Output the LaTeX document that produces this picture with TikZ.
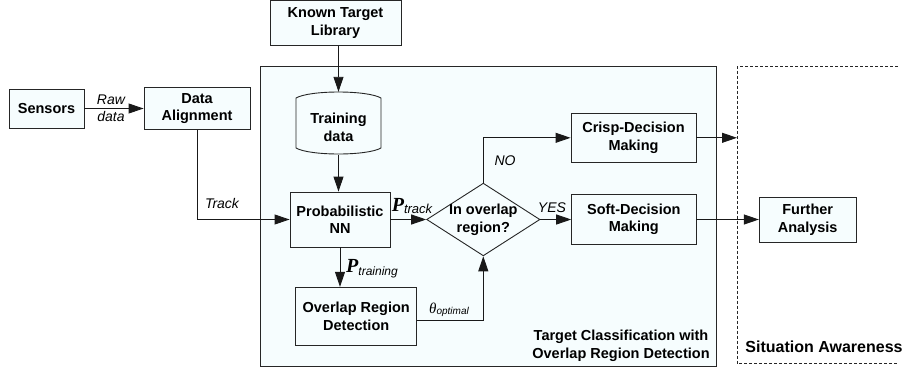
\documentclass[tikz,border=0pt]{standalone}
\usepackage{fontspec}
\setmainfont{Liberation Sans}
\newfontfamily\serifP{Liberation Serif}
\usetikzlibrary{arrows.meta,shapes.geometric}
\definecolor{boxfill}{RGB}{246,253,254}
\tikzset{
  blk/.style={draw=black!85, fill=boxfill, line width=0.9pt, font=\fontsize{14.5}{17.5}\selectfont\bfseries, align=center, inner sep=0pt},
  lbl/.style={font=\fontsize{14}{17}\selectfont\itshape, align=center, inner sep=0pt},
  bold/.style={font=\fontsize{14.5}{18}\selectfont\bfseries, align=center, inner sep=0pt},
  conn/.style={line width=0.9pt, draw=black!90, -{Triangle[length=15pt,width=10pt]}},
}
\newcommand{\bigP}{{\fontsize{20}{20}\selectfont\serifP\bfseries\itshape P}}
\begin{document}
\begin{tikzpicture}[x=1pt,y=-1pt]
\useasboundingbox (0,0) rectangle (905,370);
% container boxes
\node[draw=black!85, fill=boxfill, line width=0.9pt, minimum width=456.7pt, minimum height=300pt, inner sep=0pt] (tcbox) at (488.35,216.7) {};
\draw[line width=0.7pt, dashed, dash pattern=on 3pt off 2pt, black!85] (898,66.7) -- (737,66.7) -- (737,363.3) -- (898,363.3);
\coordinate (sa) at (737,137.8);

% blocks
\node[blk, minimum width=131pt, minimum height=45pt] (ktl) at (335.5,23) {Known Target\\Library};
\node[blk, minimum width=75pt, minimum height=39pt] (sensors) at (46.5,108.5) {Sensors};
\node[blk, minimum width=106pt, minimum height=42pt] (align) at (197,108.5) {Data\\Alignment};
\draw[draw=black!85, fill=boxfill, line width=0.9pt] (296,98) .. controls (310,90) and (367,90) .. (381,98) -- (381,148) .. controls (367,156) and (310,156) .. (296,148) -- cycle;
\node[minimum width=85pt, minimum height=63pt, inner sep=0pt] (train) at (338.5,123.5) {};
\node[bold] (trainlbl) at (338.5,127) {Training\\data};
\node[blk, minimum width=100pt, minimum height=55pt] (pnn) at (340,219.5) {Probabilistic\\NN};
\node[blk, minimum width=121pt, minimum height=58.4pt] (ord) at (356.2,316.5) {Overlap Region\\Detection};
\node[draw=black!85, fill=boxfill, line width=0.9pt, diamond, minimum width=113.3pt, minimum height=72.7pt, inner sep=0pt] (dec) at (483.3,219.5) {};
\node[bold] (declbl) at (483.3,219.5) {In overlap\\region?};
\node[blk, minimum width=125pt, minimum height=49pt] (crisp) at (633.5,137.8) {Crisp-Decision\\Making};
\node[blk, minimum width=124.3pt, minimum height=50.7pt] (soft) at (633.8,219.5) {Soft-Decision\\Making};
\node[blk, minimum width=96.7pt, minimum height=45pt] (further) at (807.7,219.5) {Further\\Analysis};
\node[bold] (tclbl) at (621,346) {Target Classification with\\Overlap Region Detection};
\node[bold, font=\fontsize{16}{18}\selectfont\bfseries] (salbl) at (824,347) {Situation Awareness};

% connectors
\draw[conn] (sensors.east) -- (align.west);
\draw[conn] (ktl.south -| train.north) -- (train.north);
\draw[conn] (train.south) -- (train.south |- pnn.north);
\draw[conn] (align.south) |- (pnn.west);
\draw[conn] (pnn.east) -- (dec.west);
\draw[conn] (pnn.south) -- (pnn.south |- ord.north);
\draw[conn] ([yshift=-3.5pt]ord.east) -| (dec.south);
\draw[conn] (dec.north) |- (crisp.west);
\draw[conn] (dec.east) -- (soft.west);
\draw[conn] (crisp.east) -- (crisp.east -| sa);
\draw[conn] (soft.east) -- (further.west);

% labels
\node[lbl] (rawlbl) at (111,108) {Raw\\data};
\node[lbl] (tracklbl) at (222,203) {Track};
\node[inner sep=0pt] (ptrack) at (412,206) {\bigP\raisebox{-2pt}{\fontsize{13}{13}\selectfont\itshape track}};
\node[inner sep=0pt] (ptrain) at (372,269) {\bigP\raisebox{-3pt}{\fontsize{12}{12}\selectfont\itshape training}};
\node[inner sep=0pt] (theta) at (449,310) {{\fontsize{15}{15}\selectfont\serifP\itshape θ}\raisebox{-1pt}{\fontsize{10}{10}\selectfont\itshape optimal}};
\node[lbl] (yeslbl) at (552,208) {YES};
\node[lbl] (nolbl) at (505,161) {NO};
\end{tikzpicture}
\end{document}
